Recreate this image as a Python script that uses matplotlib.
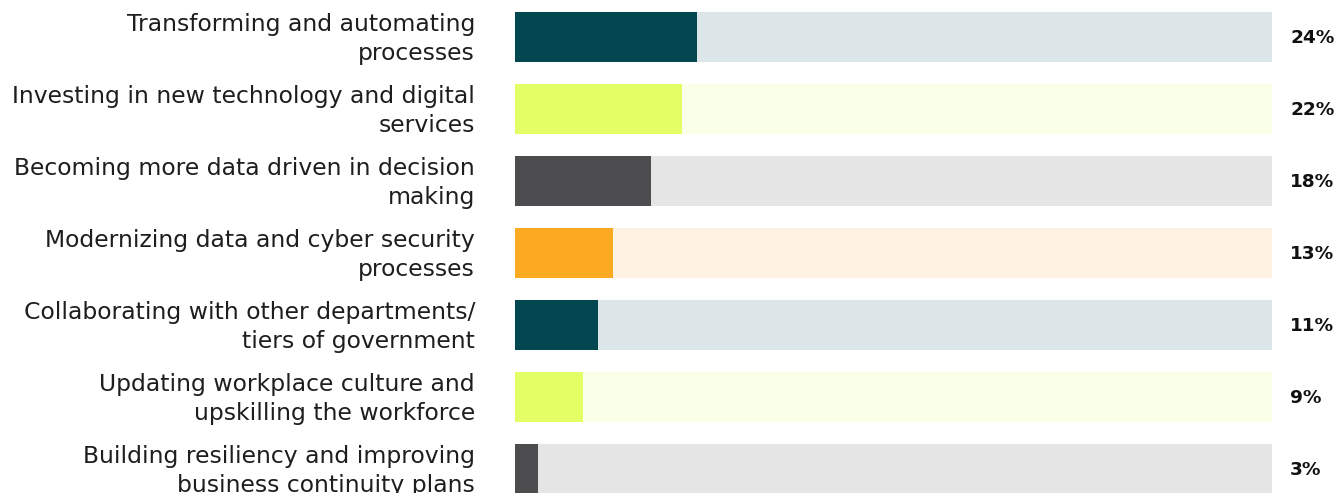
import matplotlib
matplotlib.use("Agg")
import matplotlib.pyplot as plt

categories = [
    "Transforming and automating\nprocesses",
    "Investing in new technology and digital\nservices",
    "Becoming more data driven in decision\nmaking",
    "Modernizing data and cyber security\nprocesses",
    "Collaborating with other departments/\ntiers of government",
    "Updating workplace culture and\nupskilling the workforce",
    "Building resiliency and improving\nbusiness continuity plans",
]
values = [24, 22, 18, 13, 11, 9, 3]
fill_colors = ["#02474F", "#E2FF66", "#4D4D4F", "#FBAA22", "#02474F", "#E2FF66", "#4D4D4F"]
bg_colors = ["#DCE5E8", "#FAFFE8", "#E5E5E5", "#FDF2E1", "#DCE5E8", "#FAFFE8", "#E5E5E5"]

W, H = 1337, 493
fig = plt.figure(figsize=(W / 100, H / 100), dpi=100)
ax = fig.add_axes([515 / W, 0, 757 / W, 1])
ypos = list(range(len(values)))
ax.barh(ypos, [100] * len(values), height=50 / 72, color=bg_colors, left=0)
ax.barh(ypos, values, height=50 / 72, color=fill_colors, left=0)
ax.set_xlim(0, 100)
ax.set_ylim(456 / 72, -37 / 72)
ax.axis("off")

for y, lab, v in zip(ypos, categories, values):
    ax.text(-40 / 757 * 100, y + 0.03, lab, ha="right", va="center", multialignment="right",
            fontsize=16.9, color="#1E1E1E", family="DejaVu Sans", linespacing=1.36)
    ax.text(102.4, y + 0.02, f"{v}%", ha="left", va="center", fontsize=13.3, fontweight="bold",
            color="#111111", family="DejaVu Sans")

fig.savefig("out.png", dpi=100)
